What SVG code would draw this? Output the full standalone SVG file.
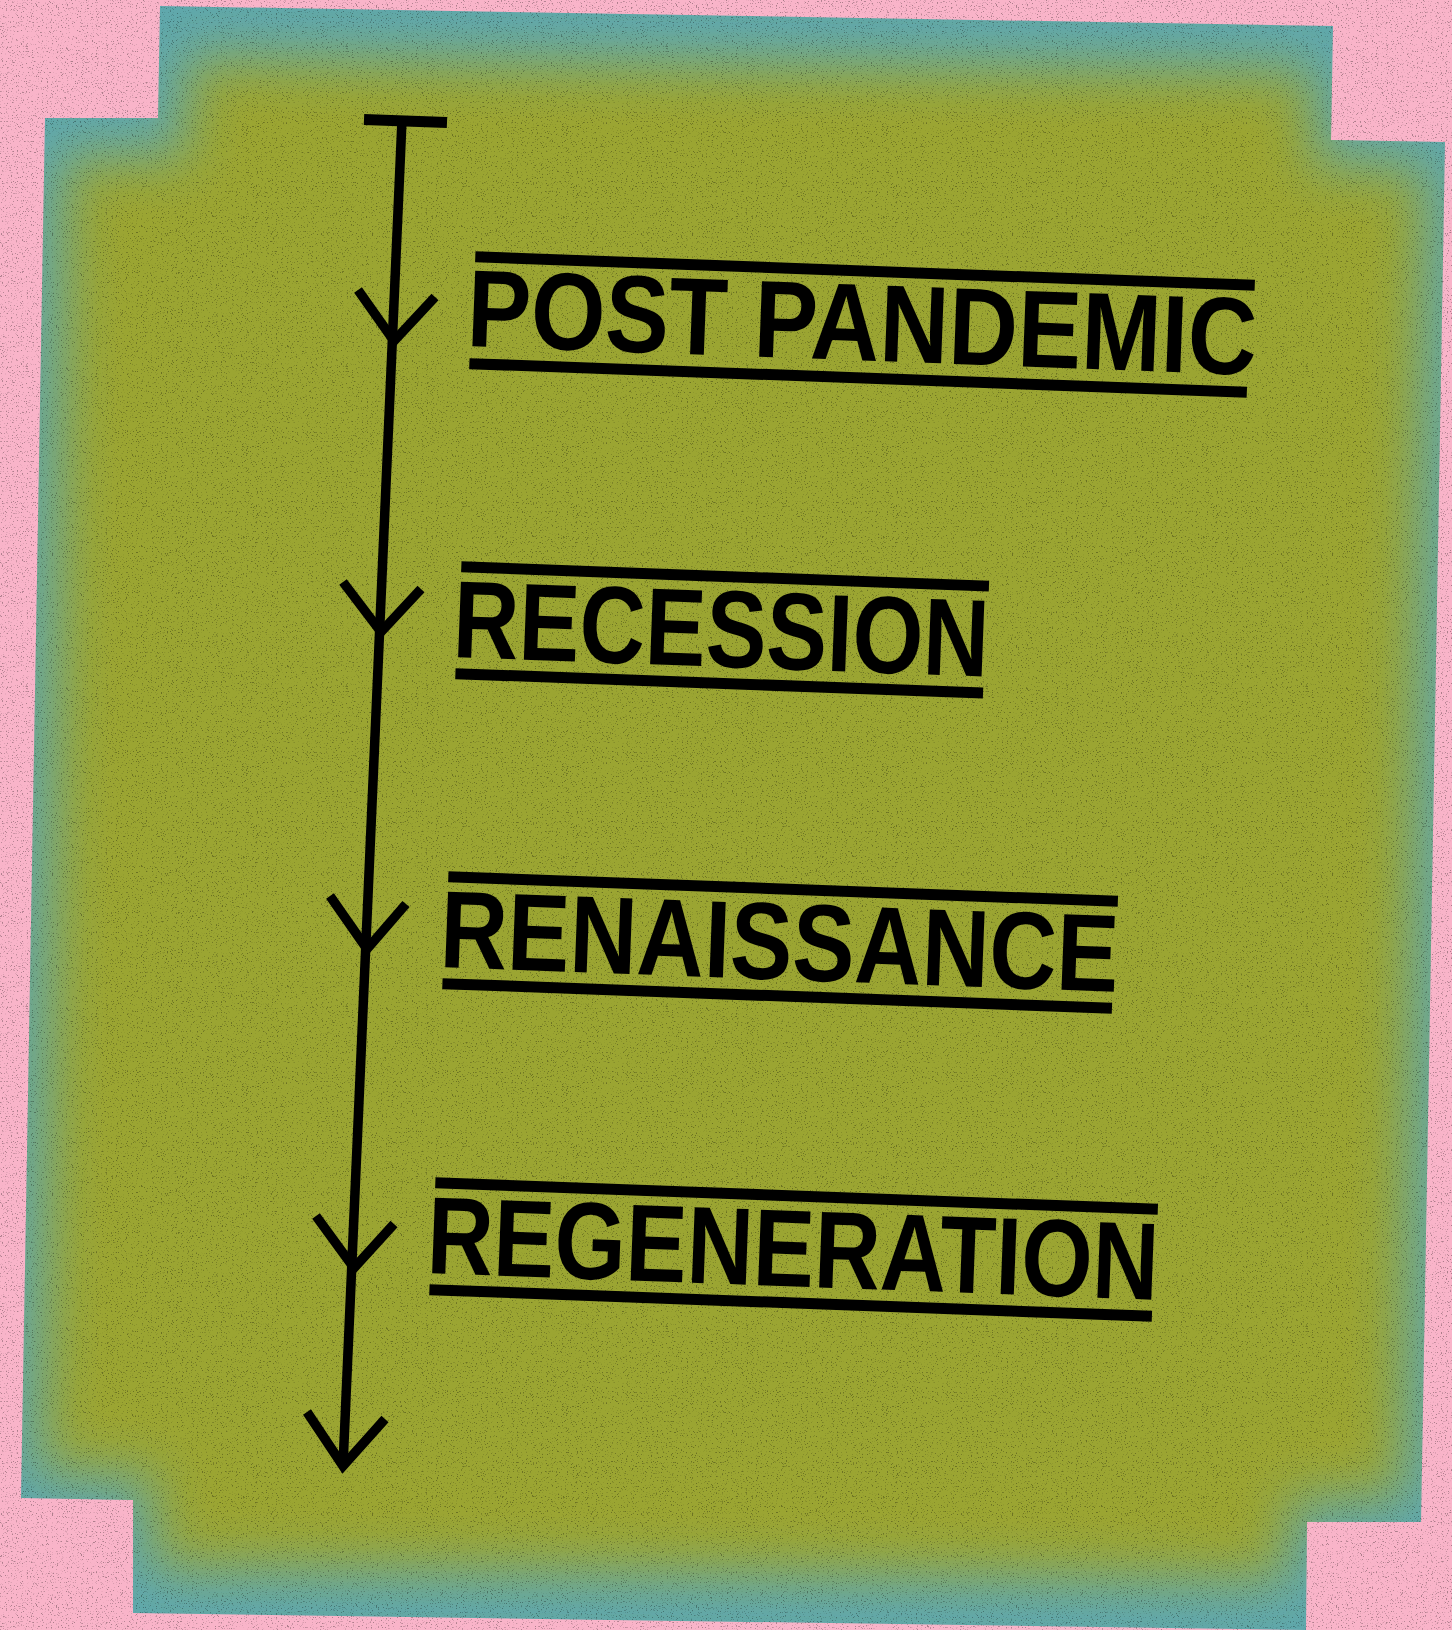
<svg xmlns="http://www.w3.org/2000/svg" width="1452" height="1630" viewBox="0 0 1452 1630">
  <style>
    .lbl { font-family: "Liberation Sans", Arial, sans-serif; font-weight: bold; font-size: 110px; fill: #000; }
    .bar { fill: #000; }
    .ln { fill: none; stroke: #000; stroke-width: 9.5; stroke-linecap: butt; stroke-linejoin: miter; }
  </style>
  <defs>
    <clipPath id="sheetClip">
      <polygon points="160,6 1333,26 1331,140 1445,142 1421,1522 1307,1522 1306,1630 133,1613 133,1500 21,1498 45,118 158,118"/>
    </clipPath>
    <filter id="soft" x="-20%" y="-20%" width="140%" height="140%">
      <feGaussianBlur stdDeviation="28"/>
    </filter>
    <filter id="grain" x="0" y="0" width="1452" height="1630" filterUnits="userSpaceOnUse">
      <feTurbulence type="fractalNoise" baseFrequency="0.8" numOctaves="2" seed="7"/>
      <feColorMatrix type="matrix" values="0 0 0 0 0  0 0 0 0 0  0 0 0 0 0  8 0 0 0 -4.9"/>
    </filter>
  </defs>

  <rect id="background" x="0" y="0" width="1452" height="1630" fill="#F9B4C9"/>

  <g id="sheet" clip-path="url(#sheetClip)">
    <rect x="0" y="0" width="1452" height="1630" fill="#5FA8AE"/>
    <polygon points="185,58 1316,70 1314,164 1426,166 1404,1500 1290,1500 1290,1580 152,1568 152,1476 40,1474 64,156 185,156" fill="#9BA531" filter="url(#soft)"/>
  </g>

  <rect id="grain-layer" x="0" y="0" width="1452" height="1630" fill="#000" filter="url(#grain)" opacity="0.3"/>

  <g id="connectors">
    <line class="ln" x1="364" y1="119.5" x2="447" y2="122.5" style="stroke-width:11"/>
    <line class="ln" x1="402" y1="120" x2="343" y2="1466"/>
    <polyline class="ln" points="358,290 394,341 435,297"/>
    <polyline class="ln" points="343,582 381,632 421,589"/>
    <polyline class="ln" points="330,896 367,949 406,904"/>
    <polyline class="ln" points="316,1216 354,1268 394,1224"/>
    <polyline class="ln" points="307,1412 343,1466 385,1419"/>
  </g>

  <g id="node-post-pandemic" transform="translate(466,346) rotate(2.1)">
    <rect class="bar" x="6" y="-95" width="780" height="11"/>
    <text class="lbl" x="0" y="0" textLength="790" lengthAdjust="spacingAndGlyphs">POST PANDEMIC</text>
    <rect class="bar" x="4" y="12" width="778" height="11"/>
  </g>

  <g id="node-recession" transform="translate(452,657) rotate(2.1)">
    <rect class="bar" x="6" y="-96" width="528" height="11"/>
    <text class="lbl" x="0" y="0" textLength="536" lengthAdjust="spacingAndGlyphs">RECESSION</text>
    <rect class="bar" x="4" y="11" width="528" height="11"/>
  </g>

  <g id="node-renaissance" transform="translate(439,967) rotate(2.1)">
    <rect class="bar" x="6" y="-96" width="670" height="11"/>
    <text class="lbl" x="0" y="0" textLength="679" lengthAdjust="spacingAndGlyphs">RENAISSANCE</text>
    <rect class="bar" x="4" y="11" width="670" height="11"/>
  </g>

  <g id="node-regeneration" transform="translate(426,1273) rotate(2.1)">
    <rect class="bar" x="6" y="-96" width="723" height="11"/>
    <text class="lbl" x="0" y="0" textLength="732" lengthAdjust="spacingAndGlyphs">REGENERATION</text>
    <rect class="bar" x="4" y="11" width="723" height="11"/>
  </g>
</svg>
